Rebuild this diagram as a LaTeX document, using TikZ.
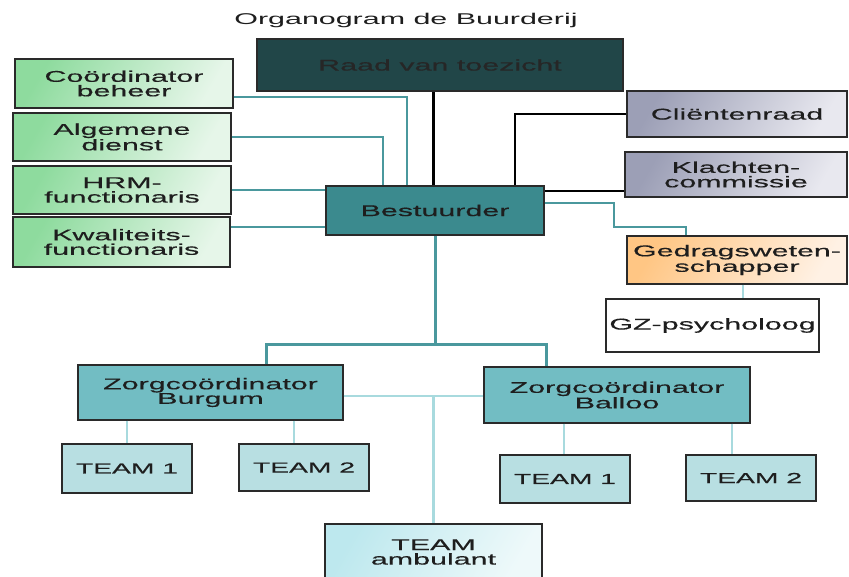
\documentclass[tikz,border=0pt]{standalone}
\usepackage{fontspec}
\setmainfont[FakeStretch=1.95,FakeBold=0.35]{Liberation Sans}
\newfontfamily\titlefont[FakeStretch=1.95]{Liberation Sans}
\usetikzlibrary{calc}
\definecolor{txt}{HTML}{1E1E1E}
\definecolor{bord}{HTML}{2A2A2A}
\definecolor{tealln}{HTML}{4A989D}
\definecolor{lightln}{HTML}{A8DADE}
\definecolor{raadc}{HTML}{214648}
\definecolor{bestc}{HTML}{3B8A8E}
\definecolor{zorgc}{HTML}{72BDC3}
\definecolor{teamc}{HTML}{B8DFE2}
\definecolor{greenA}{HTML}{8EDB9E}
\definecolor{greenB}{HTML}{E6F6E9}
\definecolor{grayA}{HTML}{9C9FB6}
\definecolor{grayB}{HTML}{E8E8EF}
\definecolor{orA}{HTML}{FFC684}
\definecolor{orB}{HTML}{FFF1E4}
\definecolor{cyA}{HTML}{BDE8EE}
\definecolor{cyB}{HTML}{EEF9FA}
\tikzset{
  box/.style={draw=bord, line width=1.3pt, inner sep=0pt, align=center, text=txt,
    font=\fontsize{15.6}{14.5}\selectfont},
  greenbox/.style={box, left color=greenA, right color=greenB, shading angle=60},
  graybox/.style={box, left color=grayA, right color=grayB, shading angle=60},
  orbox/.style={box, left color=orA, right color=orB, shading angle=60},
  cybox/.style={box, left color=cyA, right color=cyB, shading angle=60},
  teambox/.style={box, fill=teamc, font=\fontsize{14.5}{14}\selectfont},
  tealline/.style={draw=tealln, line width=2.2pt},
  tealthick/.style={draw=tealln, line width=3pt},
  lightline/.style={draw=lightln, line width=2.6pt},
  blackline/.style={draw=black, line width=2pt},
}
\begin{document}
\begin{tikzpicture}[x=1pt,y=-1pt]
\useasboundingbox (0,0) rectangle (849,577);
\node[text=txt, font=\titlefont\fontsize{15.6}{16}\selectfont] (title) at (406,20) {Organogram de Buurderij};
% nodes
\node[box, fill=raadc, text=black!85, minimum width=366, minimum height=52] (raad) at (440,65) {Raad van toezicht};
\node[greenbox, minimum width=218, minimum height=49] (cb) at (124,83.5) {Coördinator\\beheer};
\node[greenbox, minimum width=218, minimum height=48] (ad) at (122,137) {Algemene\\dienst};
\node[greenbox, minimum width=218, minimum height=48] (hrm) at (122,190) {HRM-\\functionaris};
\node[greenbox, minimum width=217, minimum height=50] (kw) at (121.5,242) {Kwaliteits-\\functionaris};
\node[box, fill=bestc, minimum width=218, minimum height=49] (best) at (435,210.5) {Bestuurder};
\node[graybox, minimum width=220, minimum height=46] (cr) at (737,114) {Cliëntenraad};
\node[graybox, minimum width=222, minimum height=45] (kc) at (736,174.5) {Klachten-\\commissie};
\node[orbox, minimum width=220, minimum height=48] (gw) at (737,260) {Gedragsweten-\\schapper};
\node[box, fill=white, minimum width=213, minimum height=53] (gz) at (712.5,325.5) {GZ-psycholoog};
\node[box, fill=zorgc, minimum width=265, minimum height=55] (zb) at (210.5,392.5) {Zorgcoördinator\\Burgum};
\node[box, fill=zorgc, minimum width=266, minimum height=56] (zl) at (617,395) {Zorgcoördinator\\Balloo};
\node[teambox, minimum width=130, minimum height=49] (t1b) at (127,468.5) {TEAM 1};
\node[teambox, minimum width=130, minimum height=47] (t2b) at (304,467.5) {TEAM 2};
\node[teambox, minimum width=130, minimum height=48] (t1l) at (565,479) {TEAM 1};
\node[teambox, minimum width=130, minimum height=46] (t2l) at (751,478) {TEAM 2};
\node[cybox, minimum width=217, minimum height=56] (ta) at (433.5,552) {TEAM\\ambulant};
% helper coordinates
\coordinate (kwp) at ([yshift=15pt]kw.east);
\coordinate (kcp) at ([yshift=-16.5pt]kc.west);
\coordinate (bar) at (435,345);
\coordinate (mid) at (433.5,396);
% connectors to Bestuurder (left)
\draw[tealline] ([yshift=-13.5pt]cb.east) -| ([xshift=-28pt]best.north);
\draw[tealline] (ad.east) -| ([xshift=-52pt]best.north);
\draw[tealline] (hrm.east) -- (best.west |- hrm.east);
\draw[tealline] (kwp) -- (best.west |- kwp);
% black connectors
\draw[blackline, line width=3pt] ([xshift=-2pt]best.north) -- ([xshift=-2pt]raad.south -| best.north);
\draw[blackline] (cr.west) -| ([xshift=80pt]best.north);
\draw[blackline] (kcp) -- (best.east |- kcp);
% Gedragswetenschapper
\draw[tealline] ([yshift=7.5pt]best.east) -- ++(69,0) -- ++(0,24) -| ([xshift=-51pt]gw.north);
\draw[lightline] ([xshift=6pt]gw.south) -- ([xshift=6pt]gz.north -| gw.south);
% lower hierarchy
\draw[tealthick] (best.south) -- (bar);
\draw[tealthick] ([xshift=55.5pt]zb.north) |- (bar) -| ([xshift=-71pt]zl.north);
\draw[lightline, line width=2pt] ([yshift=-3.5pt]zb.east) -- (zl.west |- mid);
\draw[lightline] (mid) -- (ta.north);
\draw[lightline] (t1b.north |- zb.south) -- (t1b.north);
\draw[lightline] ([xshift=-10pt]t2b.north |- zb.south) -- ([xshift=-10pt]t2b.north);
\draw[lightline] ([xshift=-1pt]t1l.north |- zl.south) -- ([xshift=-1pt]t1l.north);
\draw[lightline] ([xshift=-19pt]t2l.north |- zl.south) -- ([xshift=-19pt]t2l.north);
\end{tikzpicture}
\end{document}
